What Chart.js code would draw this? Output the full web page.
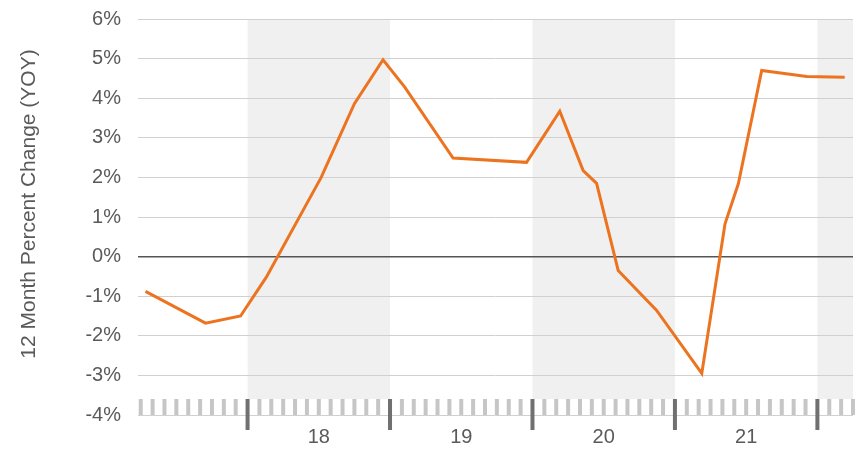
<!DOCTYPE html>
<html>
<head>
<meta charset="utf-8">
<script src="https://cdn.jsdelivr.net/npm/chart.js@4"></script>
<style>
  html, body { margin: 0; padding: 0; background: #ffffff; }
  #wrap { width: 867px; height: 449px; position: relative; }
</style>
</head>
<body>
<div id="wrap"><canvas id="c"></canvas></div>
<script>
// Month positions (months since Jan 2017) of the line's vertices
const monthPositions = [3.40, 8.46, 11.41, 13.58, 18.2, 21.0, 23.41, 25.24, 29.31, 35.5, 38.3, 40.27, 41.4, 43.22, 46.46, 50.26, 52.22, 53.34, 55.31, 59.1, 62.3];
// 12-month percent change values
const yoyValues = [-0.88, -1.68, -1.50, -0.52, 2.0, 3.86, 4.97, 4.28, 2.49, 2.38, 3.67, 2.17, 1.85, -0.35, -1.36, -2.95, 0.83, 1.84, 4.70, 4.55, 4.53];
// Year labels and their mid-year positions
const yearLabels = ["18", "19", "20", "21"];
const yearLabelPositions = [18, 30, 42, 54];
// Shaded year spans (start month, end month)
const shadedStarts = [12, 36, 60];
const shadedEnds = [24, 48, 63];
// Monthly tick marks
const firstTickMonth = 3;
const lastTickMonth = 63;
const xMin = 2.77, xMax = 63.0;
const yTitle = "12 Month Percent Change (YOY)";

const FONT = "'Liberation Sans', Arial, Helvetica, sans-serif";

const decorPlugin = {
  id: 'decor',
  beforeDraw(chart) {
    const {ctx, chartArea, scales} = chart;
    const x = scales.x;
    ctx.save();
    ctx.fillStyle = '#f0f0f0';
    for (let i = 0; i < shadedStarts.length; i++) {
      const x0 = x.getPixelForValue(shadedStarts[i]);
      const x1 = Math.min(x.getPixelForValue(shadedEnds[i]), chartArea.right);
      ctx.fillRect(x0, chartArea.top, x1 - x0, (chartArea.bottom - 16) - chartArea.top);
    }
    ctx.restore();
  },
  beforeDatasetsDraw(chart) {
    const {ctx, chartArea, scales} = chart;
    const x = scales.x;
    const top = chartArea.bottom - 16;
    ctx.save();
    for (let m = firstTickMonth; m <= lastTickMonth; m++) {
      const px = x.getPixelForValue(m);
      if (m % 12 === 0) {
        ctx.fillStyle = '#707070';
        ctx.fillRect(px - 2, top, 4, 31);
      } else {
        ctx.fillStyle = '#c6c6c6';
        ctx.fillRect(px - 2, top, 4, 16);
      }
    }
    ctx.restore();
  },
  afterDraw(chart) {
    const {ctx} = chart;
    ctx.save();
    ctx.translate(29, 204);
    ctx.rotate(-Math.PI / 2);
    ctx.fillStyle = '#5a5a5a';
    ctx.font = "21px " + FONT;
    ctx.textAlign = 'center';
    ctx.textBaseline = 'middle';
    ctx.fillText(yTitle, 0, 0);
    ctx.restore();
  }
};

new Chart(document.getElementById('c'), {
  type: 'line',
  data: {
    datasets: [{
      data: monthPositions.map((m, i) => ({x: m, y: yoyValues[i]})),
      borderColor: '#ec7420',
      borderWidth: 3,
      pointRadius: 0,
      tension: 0,
      fill: false,
      borderJoinStyle: 'miter'
    }]
  },
  options: {
    responsive: true,
    maintainAspectRatio: false,
    animation: false,
    layout: { padding: { top: 19, right: 14, bottom: 0, left: 0 } },
    plugins: { legend: { display: false }, tooltip: { enabled: false } },
    scales: {
      x: {
        type: 'linear',
        min: xMin,
        max: xMax,
        grid: { display: false, drawTicks: false },
        border: { display: false },
        afterBuildTicks: (scale) => { scale.ticks = yearLabelPositions.map(v => ({value: v})); },
        afterFit: (scale) => { scale.height = 34; scale.paddingLeft = 0; scale.paddingRight = 0; },
        ticks: {
          autoSkip: false,
          maxRotation: 0,
          padding: 10,
          color: '#5a5a5a',
          font: { family: FONT, size: 20 },
          callback: (v, i) => yearLabels[i]
        }
      },
      y: {
        min: -4,
        max: 6,
        afterFit: (scale) => { scale.width = 138; scale.paddingTop = 0; scale.paddingBottom = 0; },
        border: { display: false },
        grid: {
          drawTicks: false,
          color: (c) => c.tick && c.tick.value === 0 ? '#555555' : '#d0d0d0',
          lineWidth: (c) => c.tick && c.tick.value === 0 ? 1.5 : 1
        },
        ticks: {
          stepSize: 1,
          padding: 17,
          color: '#5a5a5a',
          font: { family: FONT, size: 20 },
          callback: (v) => v + '%'
        }
      }
    }
  },
  plugins: [decorPlugin]
});
</script>
</body>
</html>
